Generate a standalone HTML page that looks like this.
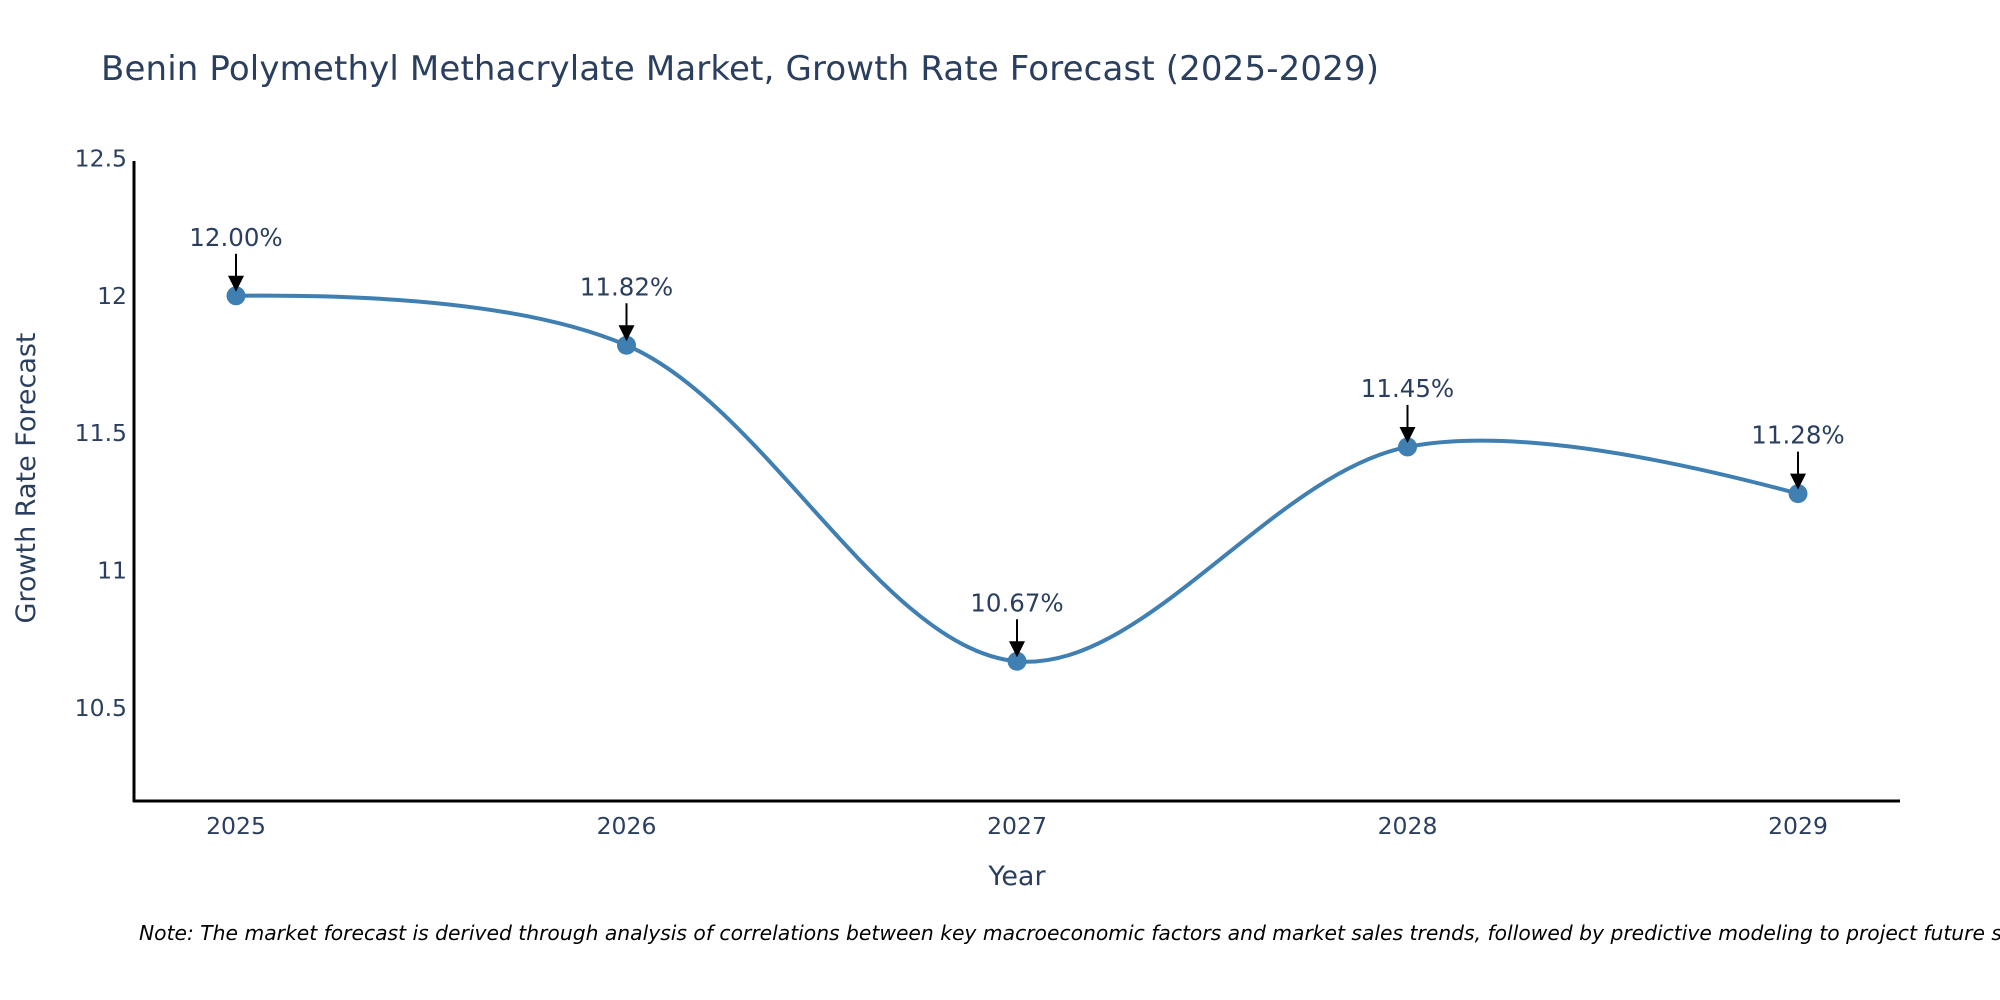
<!DOCTYPE html>
<html><head><meta charset="utf-8"><style>
html,body{margin:0;padding:0;background:#fff;}
svg{display:block;font-family:"DejaVu Sans","Liberation Sans",sans-serif;}
</style></head><body>
<svg id="chart" width="2000" height="1000" viewBox="0 0 2000 1000">
<text x="101" y="80" font-size="34" fill="#2a3f5f" textLength="1278">Benin Polymethyl Methacrylate Market, Growth Rate Forecast (2025-2029)</text>
<g id="yticks"></g>
<g id="xticks"></g>
<line x1="134" y1="161" x2="134" y2="802" stroke="#000" stroke-width="3"/>
<line x1="133" y1="801" x2="1900" y2="801" stroke="#000" stroke-width="3"/>
<text x="1017" y="885" font-size="27" fill="#2a3f5f" text-anchor="middle">Year</text>
<text transform="translate(35,478) rotate(-90)" font-size="27" fill="#2a3f5f" text-anchor="middle">Growth Rate Forecast</text>
<g id="series"></g>
<g id="annos"></g>
<text x="139" y="940" font-size="20.3" font-style="italic" fill="#000">Note: The market forecast is derived through analysis of correlations between key macroeconomic factors and market sales trends, followed by predictive modeling to project future sales.</text>
</svg>
<script>
const years = ["2025","2026","2027","2028","2029"];
const values = [12.00, 11.82, 10.67, 11.45, 11.28];
const labels = ["12.00%","11.82%","10.67%","11.45%","11.28%"];
const yTicks = [10.5, 11, 11.5, 12, 12.5];
const yTickLabels = ["10.5","11","11.5","12","12.5"];

const NS = "http://www.w3.org/2000/svg";
function xScale(i){ return 236 + i * 390.5; }
function yScale(v){ return 708 - (v - 10.5) * 274.8; }
function mk(tag, attrs, parent){ const e = document.createElementNS(NS, tag); for (const k in attrs) e.setAttribute(k, attrs[k]); parent.appendChild(e); return e; }

const yt = document.getElementById('yticks');
yTicks.forEach((v, i) => {
  const t = mk('text', {x:127, y:yScale(v)+8, 'font-size':23.5, fill:'#2a3f5f', 'text-anchor':'end'}, yt);
  
  
  t.textContent = yTickLabels[i];
});
const xt = document.getElementById('xticks');
years.forEach((y, i) => {
  const t = mk('text', {x:xScale(i), y:834, 'font-size':23.5, fill:'#2a3f5f', 'text-anchor':'middle'}, xt);
  
  
  t.textContent = y;
});

const pts = values.map((v, i) => [xScale(i), yScale(v)]);
function makeTangent(p0, p1, p2, s){
  const d1x=p0[0]-p1[0], d1y=p0[1]-p1[1], d2x=p2[0]-p1[0], d2y=p2[1]-p1[1];
  const d1a=Math.pow(d1x*d1x+d1y*d1y,0.25), d2a=Math.pow(d2x*d2x+d2y*d2y,0.25);
  const numx=(d2a*d2a*d1x-d1a*d1a*d2x)*s, numy=(d2a*d2a*d1y-d1a*d1a*d2y)*s;
  const den1=3*d2a*(d1a+d2a), den2=3*d1a*(d1a+d2a);
  return [[p1[0]+numx/den1, p1[1]+numy/den1],[p1[0]-numx/den2, p1[1]-numy/den2]];
}
const tg = [];
for (let i=1;i<pts.length-1;i++) tg.push(makeTangent(pts[i-1],pts[i],pts[i+1],1));
const P = p => p[0].toFixed(2)+','+p[1].toFixed(2);
let d = 'M'+P(pts[0])+' Q'+P(tg[0][0])+' '+P(pts[1]);
for (let i=1;i<pts.length-2;i++) d += ' C'+P(tg[i-1][1])+' '+P(tg[i][0])+' '+P(pts[i+1]);
d += ' Q'+P(tg[tg.length-1][1])+' '+P(pts[pts.length-1]);
const series = document.getElementById('series');
const line = mk('path', {d:d, fill:'none', stroke:'#3f7fb1', 'stroke-width':4}, series);


pts.forEach((p, i) => {
  const c = mk('circle', {cx:p[0], cy:p[1], r:9.5, fill:'#3f7fb1'}, series);
  
  
});

const an = document.getElementById('annos');
pts.forEach((p, i) => {
  const g = mk('g', {}, an);
  
  
  mk('line', {x1:p[0], y1:p[1]-42, x2:p[0], y2:p[1]-18, stroke:'#000', 'stroke-width':2}, g);
  mk('path', {d:'M'+(p[0]-8)+','+(p[1]-20)+' L'+(p[0]+8)+','+(p[1]-20)+' L'+p[0]+','+(p[1]-4)+' Z', fill:'#000'}, g);
  const t = mk('text', {x:p[0], y:p[1]-50, 'font-size':24.5, fill:'#2a3f5f', 'text-anchor':'middle'}, g);
  
  
  t.textContent = labels[i];
});
</script>
</body></html>
